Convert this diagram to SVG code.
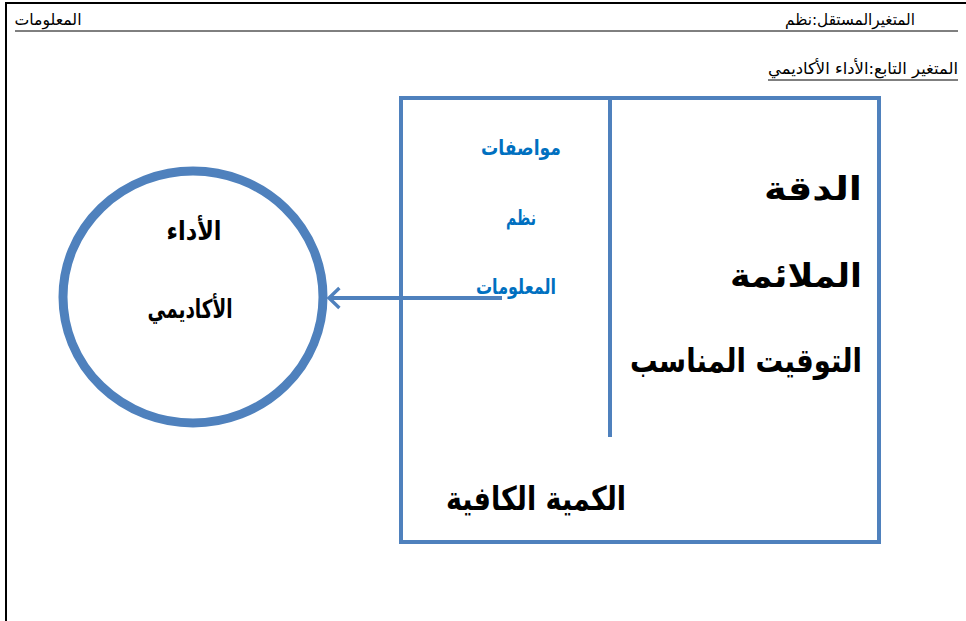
<svg xmlns="http://www.w3.org/2000/svg" width="966" height="621" viewBox="0 0 966 621">
<defs>
<style>
.hdr{font-family:"DejaVu Sans",sans-serif;font-size:16px;fill:#000;text-anchor:middle;direction:rtl}
.blk{font-family:"DejaVu Sans",sans-serif;font-weight:bold;font-size:33px;fill:#000;text-anchor:middle;direction:rtl}
.cir{font-family:"DejaVu Sans",sans-serif;font-weight:bold;font-size:26px;fill:#000;text-anchor:middle;direction:rtl}
.blu{font-family:"DejaVu Sans",sans-serif;font-weight:bold;font-size:21px;fill:#0070C0;text-anchor:middle;direction:rtl}
.edge{stroke:#4F81BD;stroke-width:4;fill:none}
</style>
<marker id="arr" markerWidth="8" markerHeight="8" refX="6" refY="4" orient="auto" markerUnits="strokeWidth">
<path d="M3.4,1.5 L6,4 L3.4,6.5" fill="none" stroke="#4F81BD" stroke-width="0.85"/>
</marker>
</defs>
<rect width="966" height="621" fill="#fff"/>
<g id="page">
<line x1="5" y1="3" x2="966" y2="3" stroke="#000" stroke-width="2"/>
<line x1="6" y1="2" x2="6" y2="621" stroke="#000" stroke-width="2"/>
</g>
<g id="header">
<text class="hdr" x="850" y="25" textLength="130" lengthAdjust="spacingAndGlyphs">المتغيرالمستقل:نظم</text>
<text class="hdr" x="48" y="25" textLength="67" lengthAdjust="spacingAndGlyphs">المعلومات</text>
<line x1="15" y1="31" x2="958" y2="31" stroke="#000" stroke-width="1"/>
<text class="hdr" x="863" y="74" textLength="190" lengthAdjust="spacingAndGlyphs">المتغير التابع:الأداء الأكاديمي</text>
<line x1="768" y1="80" x2="958" y2="80" stroke="#000" stroke-width="1"/>
</g>
<g id="box">
<rect x="401" y="98" width="478" height="444" class="edge"/>
<line x1="610" y1="98" x2="610" y2="437" class="edge"/>
<text class="blk" x="813" y="200" textLength="98" lengthAdjust="spacingAndGlyphs">الدقة</text>
<text class="blk" x="796" y="287" textLength="132" lengthAdjust="spacingAndGlyphs">الملائمة</text>
<text class="blk" x="746" y="372" textLength="232" lengthAdjust="spacingAndGlyphs">التوقيت المناسب</text>
<text class="blk" x="536" y="510" textLength="180" lengthAdjust="spacingAndGlyphs">الكمية الكافية</text>
</g>
<g id="spec">
<text class="blu" x="521" y="155" textLength="80" lengthAdjust="spacingAndGlyphs">مواصفات</text>
<text class="blu" x="521" y="225" textLength="30" lengthAdjust="spacingAndGlyphs">نظم</text>
<text class="blu" x="516" y="294" textLength="80" lengthAdjust="spacingAndGlyphs">المعلومات</text>
</g>
<g id="perf">
<ellipse cx="193" cy="297" rx="130" ry="126" stroke="#4F81BD" stroke-width="9" fill="none"/>
<text class="cir" x="194" y="240" textLength="55" lengthAdjust="spacingAndGlyphs">الأداء</text>
<text class="cir" x="190" y="318" textLength="85" lengthAdjust="spacingAndGlyphs">الأكاديمي</text>
</g>
<g id="connectors">
<line x1="502" y1="298" x2="329" y2="298" class="edge" marker-end="url(#arr)"/>
</g>
</svg>
